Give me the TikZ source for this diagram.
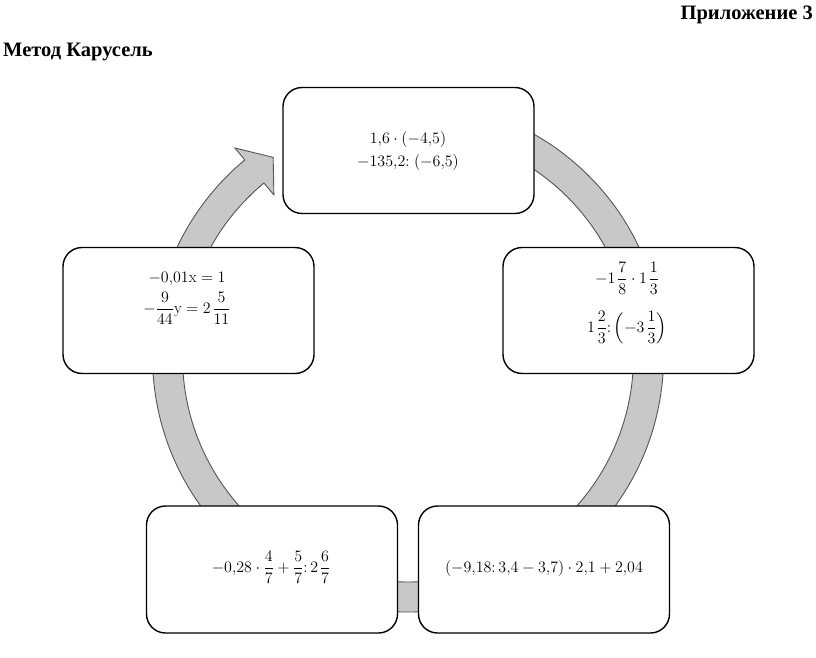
\RequirePackage{fix-cm}
\documentclass[tikz,border=0pt]{standalone}
\usepackage{amsmath}
\usepackage{fontspec}
\newfontfamily\titlefont{Liberation Serif}
\definecolor{ringfill}{RGB}{200,200,200}
\definecolor{ringline}{RGB}{85,85,85}
\newcommand{\mixgap}{\mkern2mu}
\tikzset{
  card/.style={draw=black, line width=1.4pt, fill=white, rounded corners=19pt,
    minimum width=251pt, minimum height=126pt, inner sep=0pt},
  mathtext/.style={inner sep=0pt, font=\fontsize{16}{19}\selectfont},
  heading/.style={inner sep=0pt, font=\titlefont\bfseries\fontsize{20.5}{24}\selectfont},
  ringband/.style={fill=ringfill, draw=ringline, line width=0.9pt, line join=miter}
}
\begin{document}
\begin{tikzpicture}[x=1pt,y=1pt]
\useasboundingbox (0,0) rectangle (816,657);
\node[heading, anchor=base east] (app) at (813,637) {Приложение 3};
\node[heading, anchor=base west] (title) at (3,600) {Метод Карусель};
% ring with arrowhead
\begin{scope}[shift={(408,300.5)}]
\draw[ringband] (100:255.5) arc[start angle=100, end angle=-230.3, radius=255.5]
  -- (-230.3:271) -- (-235.9:240.5) -- (-230.3:210) -- (-230.3:225.5)
  arc[start angle=-230.3, end angle=100, radius=225.5] -- cycle;
\end{scope}
% boxes
\node[card] (top) at (408.5,506.5) {};
\node[card] (right) at (628.5,346.5) {};
\node[card] (left) at (188.5,346.5) {};
\node[card, minimum height=127pt] (bl) at (272,87.5) {};
\node[card, minimum height=127pt] (br) at (544,87.5) {};
% texts
\node[mathtext, anchor=base] (t1) at (408,513) {$1{,}6\cdot(-4{,}5)$};
\node[mathtext, anchor=base] (t2) at (408,490) {$-135{,}2{:}\;(-6{,}5)$};
\node[mathtext] (r1) at (627,379) {$-1\mixgap\dfrac{7}{8}\cdot1\mixgap\dfrac{1}{3}$};
\node[mathtext] (r2) at (627,329) {$1\mixgap\dfrac{2}{3}{:}\left(-3\mixgap\dfrac{1}{3}\right)$};
\node[mathtext, anchor=base] (l1) at (187,375) {$-0{,}01\mathrm{x}=1$};
\node[mathtext] (l2) at (187,349) {$-\dfrac{9}{44}\mathrm{y}=2\mixgap\dfrac{5}{11}$};
\node[mathtext] (b1) at (271,90) {$-0{,}28\cdot\dfrac{4}{7}+\dfrac{5}{7}{:}\,2\mixgap\dfrac{6}{7}$};
\node[mathtext] (b2) at (544,89) {$(-9{,}18{:}\,3{,}4-3{,}7)\cdot2{,}1+2{,}04$};
\end{tikzpicture}
\end{document}
